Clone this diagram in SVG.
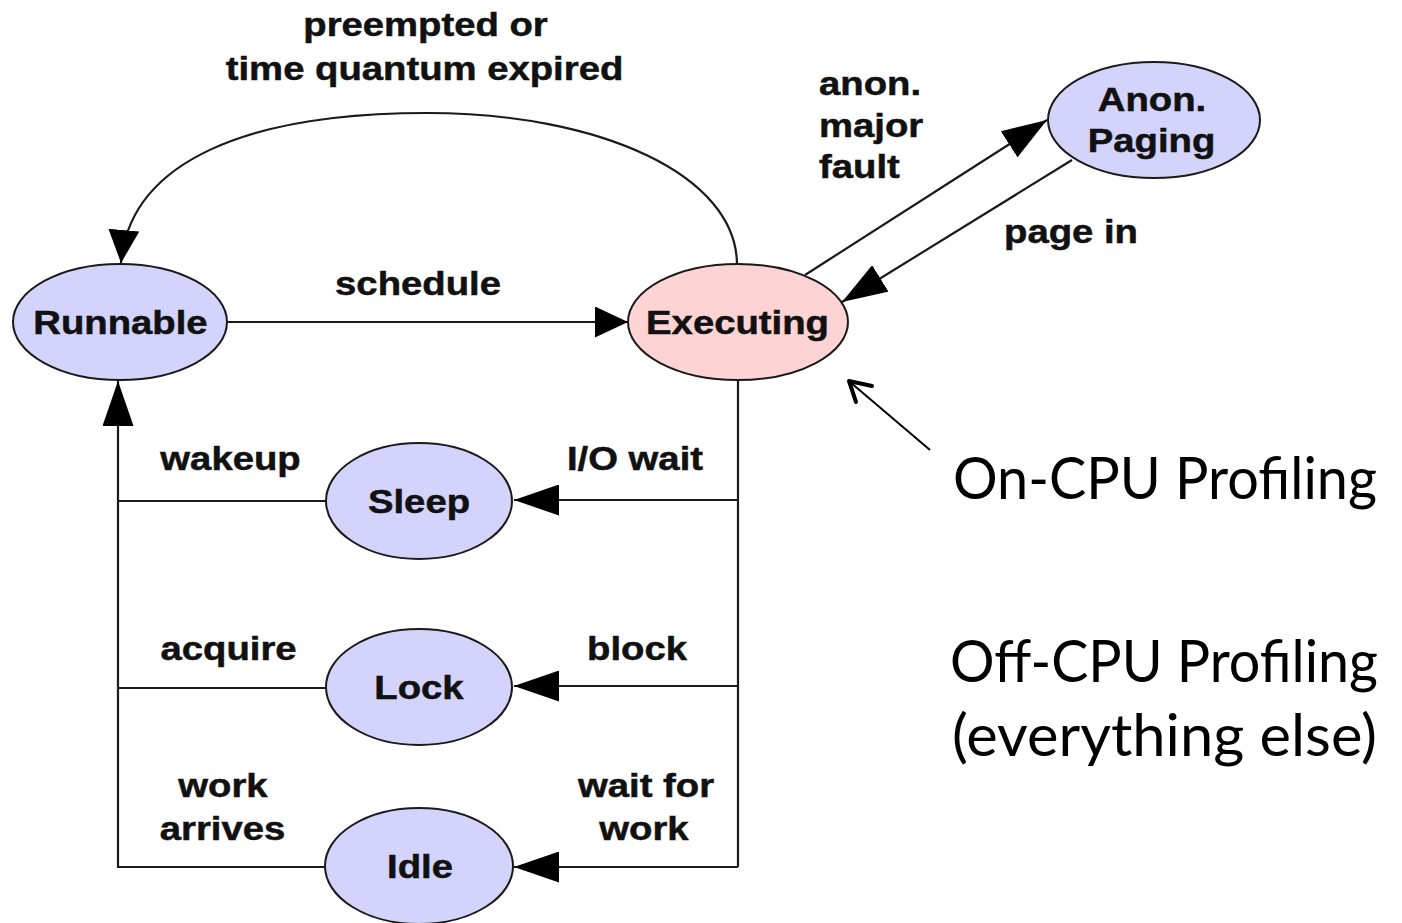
<svg xmlns="http://www.w3.org/2000/svg" width="1402" height="923" viewBox="0 0 1402 923">
  <style>
    .node { fill: #d3d3fb; stroke: #1a1a1a; stroke-width: 2; }
    .exec { fill: #fdd3d3; }
    .edge { fill: none; stroke: #1a1a1a; stroke-width: 2.2; }
    .lbl { font-family: "Liberation Sans", Arial, sans-serif; font-weight: bold; font-size: 33px; fill: #111; stroke: #111; stroke-width: 0.5; text-anchor: middle; }
    .left { text-anchor: start; }
    .note { font-family: Lato, "Open Sans", sans-serif; font-size: 58px; fill: #000; }
  </style>
  <defs>
    <marker id="head" markerUnits="userSpaceOnUse" markerWidth="45" markerHeight="31" refX="45" refY="15.5" orient="auto">
      <path d="M0,0 L45,15.5 L0,31 Z" fill="#000"/>
    </marker>
    <marker id="head-sm" markerUnits="userSpaceOnUse" markerWidth="33" markerHeight="31" refX="33" refY="15.5" orient="auto">
      <path d="M0,0 L33,15.5 L0,31 Z" fill="#000"/>
    </marker>
  </defs>

  <!-- connectors -->
  <g id="edges">
    <!-- preempted or time quantum expired -->
    <path class="edge" d="M737,265 C737,175 600,113 427,113 C250,113 130,160 121,263" marker-end="url(#head-sm)"/>
    <!-- schedule -->
    <path class="edge" d="M228,322 H628" marker-end="url(#head-sm)"/>
    <!-- anon. major fault -->
    <path class="edge" d="M805,275 L1047,120" marker-end="url(#head)"/>
    <!-- page in -->
    <path class="edge" d="M1072,160 L842,302" marker-end="url(#head)"/>
    <!-- off-CPU transitions out of Executing -->
    <path class="edge" d="M738,380 V867"/>
    <path class="edge" d="M738,500 H514" marker-end="url(#head)"/>
    <path class="edge" d="M738,686 H514" marker-end="url(#head)"/>
    <path class="edge" d="M738,867 H514" marker-end="url(#head)"/>
    <!-- wakeups back to Runnable -->
    <path class="edge" d="M326,501 H118"/>
    <path class="edge" d="M326,688 H118"/>
    <path class="edge" d="M326,867 H118 V381" marker-end="url(#head)"/>
    <!-- pointer to the Executing state -->
    <path d="M930,450 L850,382" fill="none" stroke="#000" stroke-width="2"/>
    <path d="M872,386 L849,381 L856,402" fill="none" stroke="#000" stroke-width="4" stroke-linecap="round" stroke-linejoin="round"/>
  </g>

  <!-- edge labels (glyphs widened horizontally) -->
  <g id="edge-labels">
    <text class="lbl" transform="translate(425.5,36) scale(1.16,1)">preempted or</text>
    <text class="lbl" transform="translate(424.5,80) scale(1.16,1)">time quantum expired</text>
    <text class="lbl" transform="translate(418,295) scale(1.16,1)">schedule</text>
    <text class="lbl left" transform="translate(819,95) scale(1.16,1)">anon.</text>
    <text class="lbl left" transform="translate(819,137) scale(1.16,1)">major</text>
    <text class="lbl left" transform="translate(819,178) scale(1.16,1)">fault</text>
    <text class="lbl" transform="translate(1071,243) scale(1.16,1)">page in</text>
    <text class="lbl" transform="translate(230.5,470) scale(1.16,1)">wakeup</text>
    <text class="lbl" transform="translate(635,470) scale(1.16,1)">I/O wait</text>
    <text class="lbl" transform="translate(228.5,660) scale(1.16,1)">acquire</text>
    <text class="lbl" transform="translate(637,660) scale(1.16,1)">block</text>
    <text class="lbl" transform="translate(223,797) scale(1.16,1)">work</text>
    <text class="lbl" transform="translate(222.5,840) scale(1.16,1)">arrives</text>
    <text class="lbl" transform="translate(646,797) scale(1.16,1)">wait for</text>
    <text class="lbl" transform="translate(644,840) scale(1.16,1)">work</text>
  </g>

  <!-- states -->
  <g id="runnable">
    <ellipse class="node" cx="120" cy="322" rx="107" ry="58"/>
    <text class="lbl" transform="translate(120.5,334) scale(1.16,1)">Runnable</text>
  </g>
  <g id="executing">
    <ellipse class="node exec" cx="738" cy="322" rx="110" ry="58"/>
    <text class="lbl" transform="translate(737.5,334) scale(1.16,1)">Executing</text>
  </g>
  <g id="anon-paging">
    <ellipse class="node" cx="1154" cy="120" rx="106" ry="58"/>
    <text class="lbl" transform="translate(1152,111) scale(1.16,1)">Anon.</text>
    <text class="lbl" transform="translate(1151.5,152) scale(1.16,1)">Paging</text>
  </g>
  <g id="sleep">
    <ellipse class="node" cx="419" cy="501" rx="93" ry="58"/>
    <text class="lbl" transform="translate(419,513) scale(1.16,1)">Sleep</text>
  </g>
  <g id="lock">
    <ellipse class="node" cx="419" cy="687" rx="93" ry="58"/>
    <text class="lbl" transform="translate(419,699) scale(1.16,1)">Lock</text>
  </g>
  <g id="idle">
    <ellipse class="node" cx="419" cy="866" rx="94" ry="58"/>
    <text class="lbl" transform="translate(420,878) scale(1.16,1)">Idle</text>
  </g>

  <!-- profiling annotations -->
  <g id="notes">
    <text class="note" x="953" y="499" textLength="424" lengthAdjust="spacingAndGlyphs">On-CPU Profiling</text>
    <text class="note" x="950" y="682" textLength="428" lengthAdjust="spacingAndGlyphs">Off-CPU Profiling</text>
    <text class="note" x="952" y="756" textLength="425" lengthAdjust="spacingAndGlyphs">(everything else)</text>
  </g>
</svg>
